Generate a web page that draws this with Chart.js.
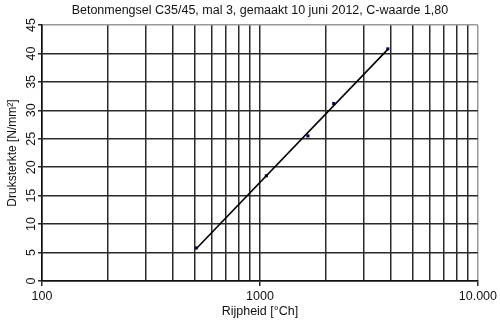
<!DOCTYPE html>
<html>
<head>
<meta charset="utf-8">
<script src="https://cdn.jsdelivr.net/npm/chart.js@4/dist/chart.umd.min.js"></script>
<style>
  html, body { margin: 0; padding: 0; background: #fff; }
  #wrap { width: 500px; height: 322px; position: relative; }
</style>
</head>
<body>
<div id="wrap"><canvas id="c"></canvas></div>
<script>
// Data
const rijpheid = [510, 1070, 1660, 2180, 3860];      // °Ch
const druksterkte = [5.8, 18.5, 25.5, 31.2, 40.8];   // N/mm²
const xTickValues = [100, 200, 300, 400, 500, 600, 700, 800, 900,
                     1000, 2000, 3000, 4000, 5000, 6000, 7000, 8000, 9000, 10000];
const xTickLabels = { 100: '100', 1000: '1000', 10000: '10.000' };
const chartTitle = 'Betonmengsel C35/45, mal 3, gemaakt 10 juni 2012, C-waarde 1,80';
const xTitle = 'Rijpheid [°Ch]';
const yTitle = 'Druksterkte [N/mm²]';

const FONT = "'Liberation Sans', Arial, sans-serif";
const points = rijpheid.map((x, i) => ({ x: x, y: druksterkte[i] }));

// Logarithmic trend line (least squares of y on log10(x)) over the data range
const logs = rijpheid.map(v => Math.log10(v));
const mL = logs.reduce((a, b) => a + b, 0) / logs.length;
const mY = druksterkte.reduce((a, b) => a + b, 0) / druksterkte.length;
let sxy = 0, sxx = 0;
logs.forEach((l, i) => { sxy += (l - mL) * (druksterkte[i] - mY); sxx += (l - mL) * (l - mL); });
const slope = sxy / sxx, icpt = mY - slope * mL;
const xMin = Math.min(...rijpheid), xMax = Math.max(...rijpheid);
const trend = [xMin, xMax].map(x => ({ x: x, y: slope * Math.log10(x) + icpt }));

const titlePlugin = {
  id: 'plotTitle',
  afterDraw(chart) {
    const { ctx, chartArea } = chart;
    ctx.save();
    ctx.font = '12.5px ' + FONT;
    ctx.fillStyle = '#111';
    ctx.textAlign = 'center';
    ctx.textBaseline = 'alphabetic';
    ctx.fillText(chartTitle, (chartArea.left + chartArea.right) / 2, 14);
    ctx.restore();
  }
};

new Chart(document.getElementById('c'), {
  type: 'scatter',
  data: {
    datasets: [{
      data: trend,
      showLine: true,
      borderColor: '#000',
      borderWidth: 1.6,
      pointRadius: 0
    }, {
      data: points,
      showLine: false,
      pointStyle: 'rect',
      pointRadius: 2.2,
      pointBackgroundColor: '#00006e',
      pointBorderColor: '#00006e',
      pointBorderWidth: 0
    }]
  },
  plugins: [titlePlugin],
  options: {
    responsive: true,
    maintainAspectRatio: false,
    animation: false,
    layout: { padding: { left: 0, right: 21, top: 25, bottom: 0 } },
    plugins: {
      legend: { display: false },
      tooltip: { enabled: false },
      title: { display: false }
    },
    scales: {
      x: {
        type: 'logarithmic',
        min: 100,
        max: 10000,
        afterBuildTicks: (scale) => { scale.ticks = xTickValues.map(v => ({ value: v })); },
        afterFit: (scale) => { scale.height = 41; },
        ticks: {
          autoSkip: false,
          maxRotation: 0,
          minRotation: 0,
          padding: 3,
          color: '#111',
          font: { family: FONT, size: 12.5 },
          callback: (v) => xTickLabels[v] !== undefined ? xTickLabels[v] : ''
        },
        grid: {
          color: (ctx) => (ctx.tick && ctx.tick.value === 10000) ? '#9a9a9a' : '#2a2a2a',
          lineWidth: 1.5,
          tickLength: 5,
          tickColor: (ctx) => (ctx.tick && xTickLabels[ctx.tick.value] !== undefined) ? '#2a2a2a' : 'rgba(0,0,0,0)'
        },
        border: { color: '#111', width: 1.5 },
        title: {
          display: true,
          text: xTitle,
          color: '#111',
          font: { family: FONT, size: 12.5, lineHeight: 1.2 },
          padding: { top: 0, bottom: 3 }
        }
      },
      y: {
        min: 0,
        max: 45,
        afterFit: (scale) => { scale.width = 42; },
        ticks: {
          stepSize: 5,
          minRotation: 90,
          maxRotation: 90,
          crossAlign: 'center',
          padding: 0,
          color: '#111',
          font: { family: FONT, size: 12.5 }
        },
        grid: {
          color: (ctx) => (ctx.tick && ctx.tick.value === 45) ? '#9a9a9a' : '#2a2a2a',
          lineWidth: 1.5,
          tickLength: 4,
          tickColor: '#2a2a2a'
        },
        border: { color: '#111', width: 1.5 },
        title: {
          display: true,
          text: yTitle,
          color: '#111',
          font: { family: FONT, size: 12, lineHeight: 1.2 },
          padding: { top: 5, bottom: 0 }
        }
      }
    }
  }
});
</script>
</body>
</html>
